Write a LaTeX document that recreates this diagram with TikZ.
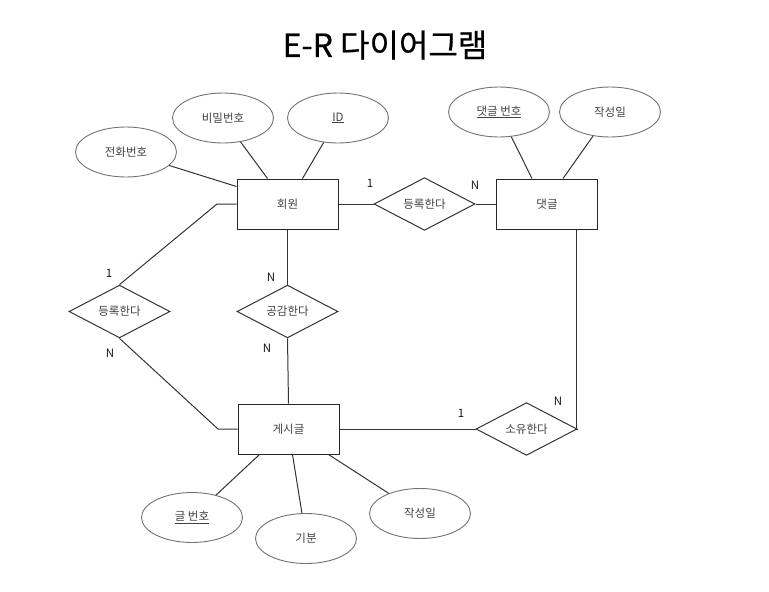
\documentclass[tikz,border=0pt]{standalone}
\usepackage{fontspec}
\setmainfont{Noto Sans CJK KR}
\newfontfamily\titlefont[FakeBold=0.6]{Noto Sans CJK KR}
\usetikzlibrary{shapes.geometric,calc}
\tikzset{
  ent/.style={draw=black!85, line width=1pt, minimum width=101pt, minimum height=50pt, inner sep=0pt, text=black!75, font=\fontsize{11.5}{12}\selectfont},
  attr/.style={ellipse, draw=black!55, line width=0.9pt, minimum width=101pt, minimum height=50pt, inner sep=0pt, text=black!75, font=\fontsize{11.5}{12}\selectfont},
  rel/.style={diamond, draw=black!80, line width=1pt, minimum width=101pt, minimum height=51pt, inner sep=0pt, text=black!75, font=\fontsize{11.5}{12}\selectfont},
  conn/.style={draw=black!80, line width=1pt},
  card/.style={inner sep=0pt, text=black!90, font=\fontsize{11.5}{12}\selectfont},
}
\begin{document}
\begin{tikzpicture}[x=1pt,y=-1pt]
\useasboundingbox (0,0) rectangle (769,592);
\node[font=\titlefont\fontsize{32}{34}\selectfont, text=black] (title) at (385,45) {E-R 다이어그램};
% entities
\node[ent] (member) at (287.5,204) {회원};
\node[ent] (comment) at (547,204) {댓글};
\node[ent] (post) at (288.5,429) {게시글};
% attributes
\node[attr] (phone) at (126,152) {전화번호};
\node[attr] (pw) at (223,118) {비밀번호};
\node[attr] (id) at (338,118) {\underline{ID}};
\node[attr] (cno) at (499,112) {\underline{댓글 번호}};
\node[attr] (cdate) at (610,112) {작성일};
\node[attr] (pno) at (192,517.5) {\underline{글 번호}};
\node[attr] (mood) at (306,538.5) {기분};
\node[attr] (pdate) at (420,513.5) {작성일};
% relationships
\node[rel] (r1) at (424.5,204) {등록한다};
\node[rel] (r2) at (119.5,311.5) {등록한다};
\node[rel] (r3) at (287.5,311.5) {공감한다};
\node[rel] (r4) at (526.5,429) {소유한다};
% corner coordinates
\coordinate (k1) at (217,204);
\coordinate (k2) at (218,429);
% attribute lines
\draw[conn] (phone) -- ($(member.north west)+(0,8)$);
\draw[conn] (pw) -- ($(member.north west)+(31,0)$);
\draw[conn] (id) -- ($(member.north west)+(66,0)$);
\draw[conn] (cno) -- ($(comment.north west)+(36,0)$);
\draw[conn] (cdate) -- ($(comment.north west)+(67,0)$);
\draw[conn] (pno) -- ($(post.south west)+(22,0)$);
\draw[conn] (mood) -- ($(post.south west)+(55,0)$);
\draw[conn] (pdate) -- ($(post.south west)+(91,0)$);
% relationship lines
\draw[conn] (member.east) -- (r1.west);
\draw[conn] (r1.east) -- (comment.west);
\draw[conn] (member.west) -- (k1) -- (r2.north);
\draw[conn] (r2.south) -- (k2) -- (post.west);
\draw[conn] (member.south) -- (r3.north);
\draw[conn] (r3.south) -- (post.north);
\draw[conn] (post.east) -- (r4.west);
\draw[conn] ($(comment.south west)+(80,0)$) |- (r4.east);
% cardinalities
\node[card] (c1) at (370,183) {1};
\node[card] (c2) at (475,185) {N};
\node[card] (c3) at (109,273) {1};
\node[card] (c4) at (110,353) {N};
\node[card] (c5) at (271,277) {N};
\node[card] (c6) at (267,348) {N};
\node[card] (c7) at (461,413) {1};
\node[card] (c8) at (558,401) {N};
\end{tikzpicture}
\end{document}
